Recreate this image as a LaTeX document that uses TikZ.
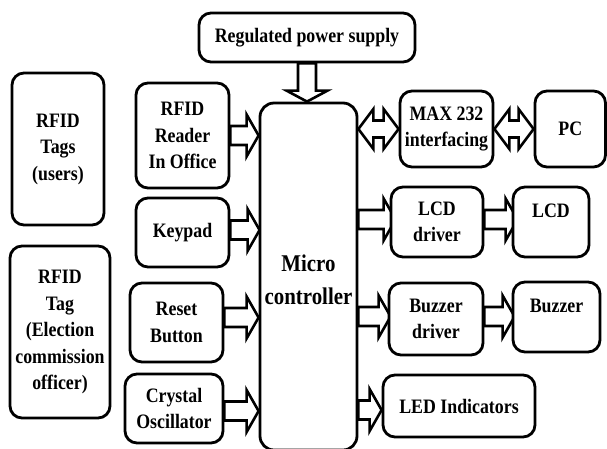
\documentclass[tikz,border=0pt]{standalone}
\usepackage{fontspec}
\setmainfont{Liberation Serif}[FakeStretch=0.87]
\usetikzlibrary{calc}
\pgfdeclarelayer{background}
\pgfsetlayers{background,main}
\tikzset{
  box/.style={draw, line width=2.8pt, rounded corners=12pt, fill=white, align=center,
    inner sep=0pt, font=\bfseries\fontsize{20.5}{26.5}\selectfont},
  arr/.style={draw, line width=2.6pt, fill=white, line join=miter},
}
\newcommand\rarr[2]{\draw[arr] let \p1=(#1), \p2=(#2) in
  (\x1,\y1+9.5pt) -- (\x2-12pt,\y1+9.5pt) -- (\x2-12pt,\y1+21pt) -- (\x2,\y1)
  -- (\x2-12pt,\y1-21pt) -- (\x2-12pt,\y1-9.5pt) -- (\x1,\y1-9.5pt) -- cycle;}
\newcommand\darr[2]{\draw[arr] let \p1=(#1), \p2=(#2) in
  (\x1-9pt,\y1) -- (\x1-9pt,\y2+11pt) -- (\x1-20.5pt,\y2+11pt) -- (\x1,\y2)
  -- (\x1+20.5pt,\y2+11pt) -- (\x1+9pt,\y2+11pt) -- (\x1+9pt,\y1) -- cycle;}
\newcommand\lrarr[2]{\draw[arr] let \p1=(#1), \p2=(#2) in
  (\x1,\y1) -- (\x1+15pt,\y1+20pt) -- (\x1+15pt,\y1+8.5pt) -- (\x2-15pt,\y1+8.5pt)
  -- (\x2-15pt,\y1+20pt) -- (\x2,\y1) -- (\x2-15pt,\y1-20pt) -- (\x2-15pt,\y1-8.5pt)
  -- (\x1+15pt,\y1-8.5pt) -- (\x1+15pt,\y1-20pt) -- cycle;}
\begin{document}
\begin{tikzpicture}[x=1pt,y=-1pt]
\useasboundingbox (0,0) rectangle (607,448);
% boxes
\node[box, minimum width=216pt, minimum height=49pt] (pwr) at (307,37.5) {Regulated power supply};
\node[box, minimum width=92pt, minimum height=152pt] (tags) at (58,149) {RFID\\Tags\\(users)};
\node[box, minimum width=100pt, minimum height=172pt] (officer) at (60,332) {RFID\\Tag\\(Election\\commission\\officer)};
\node[box, minimum width=93pt, minimum height=105pt] (reader) at (182.5,135.5) {RFID\\Reader\\In Office};
\node[box, minimum width=93pt, minimum height=69pt] (keypad) at (182.5,232.5) {Keypad};
\node[box, minimum width=93pt, minimum height=79pt] (reset) at (176.5,322.5) {Reset\\Button};
\node[box, minimum width=98pt, minimum height=69pt] (crystal) at (174,408.5) {Crystal\\Oscillator};
\node[box, minimum width=97pt, minimum height=347pt, rounded corners=14pt,
  font=\bfseries\fontsize{24}{33}\selectfont] (mc) at (308.5,276.5) {\raisebox{-3pt}[\height][\depth]{Micro}\\\raisebox{-3pt}[\height][\depth]{controller}};
\node[box, minimum width=93pt, minimum height=76pt] (max) at (446.5,129) {MAX 232\\interfacing};
\node[box, minimum width=70.5pt, minimum height=76pt] (pc) at (570.25,129) {PC};
\node[box, minimum width=92pt, minimum height=70pt] (lcddrv) at (437,222) {LCD\\driver};
\node[box, minimum width=76pt, minimum height=70pt] (lcd) at (551,222) {\raisebox{11pt}[\height][\depth]{LCD}};
\node[box, minimum width=94pt, minimum height=72pt] (bzdrv) at (436,319) {Buzzer\\driver};
\node[box, minimum width=87pt, minimum height=70pt] (bz) at (556.5,317) {\raisebox{11pt}[\height][\depth]{Buzzer}};
\node[box, minimum width=152pt, minimum height=62pt] (led) at (459,406) {LED Indicators};
% arrows
\begin{pgfonlayer}{background}
\darr{pwr.south}{mc.north}
\rarr{reader.east}{mc.west}
\rarr{$(keypad.east)+(0,-2.5)$}{$(mc.west)+(1,0)$}
\rarr{$(reset.east)+(0,-5)$}{mc.west}
\rarr{$(crystal.east)+(0,2.5)$}{mc.west}
\lrarr{mc.east |- max.west}{max.west}
\lrarr{max.east}{pc.west}
\rarr{$(mc.east |- lcddrv.west)+(0,-2.5)$}{$(lcddrv.west)+(6,0)$}
\rarr{$(lcddrv.east)+(0,-2.5)$}{$(lcd.west)+(6,0)$}
\rarr{$(mc.east |- bzdrv.west)+(0,-2.5)$}{$(bzdrv.west)+(3,0)$}
\rarr{$(bzdrv.east)+(0,-2.5)$}{$(bz.west)+(3,0)$}
\rarr{$(mc.east |- led.west)+(0,4)$}{led.west}
\end{pgfonlayer}
\end{tikzpicture}
\end{document}
